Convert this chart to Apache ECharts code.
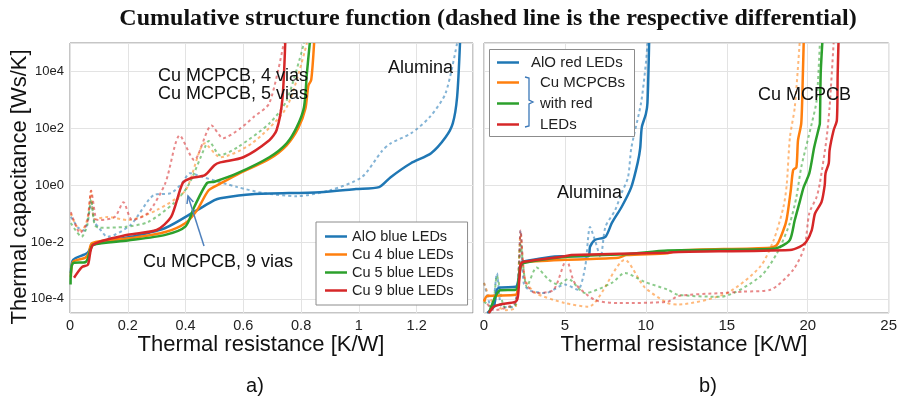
<!DOCTYPE html>
<html>
<head>
<meta charset="utf-8">
<script src="https://cdn.jsdelivr.net/npm/echarts@6/dist/echarts.min.js"></script>
<style>
  html, body { margin: 0; padding: 0; background: #fff; }
  #chart { width: 900px; height: 406px; }
</style>
</head>
<body>
<div id="chart"></div>
<script>
// values: [thermal resistance K/W, log10 of thermal capacitance Ws/K]

// a) blue LEDs, cumulative
var aloBlue = [[0.003,-3.09],[0.011,-2.63],[0.06,-2.39],[0.08,-2.1],[0.21,-1.82],[0.33,-1.51],[0.44,-0.88],[0.50,-0.53],[0.52,-0.46],[0.63,-0.32],[0.865,-0.25],[0.99,-0.14],[1.07,-0.07],[1.11,0.28],[1.18,0.77],[1.25,1.12],[1.30,1.68],[1.325,2.17],[1.34,3.1],[1.35,5]]
var cu4Blue = [[0.003,-3.23],[0.011,-2.7],[0.052,-2.56],[0.065,-2.4],[0.076,-2.04],[0.215,-1.86],[0.33,-1.65],[0.40,-1.33],[0.44,-0.88],[0.48,-0.18],[0.52,0.05],[0.58,0.38],[0.69,0.92],[0.75,1.4],[0.79,2.0],[0.815,2.7],[0.825,3.5],[0.835,3.7],[0.845,5]]
var cu5Blue = [[0.002,-3.5],[0.01,-2.75],[0.055,-2.7],[0.07,-2.3],[0.08,-2.1],[0.2,-1.95],[0.33,-1.75],[0.40,-1.45],[0.43,-0.77],[0.474,0.07],[0.50,0.12],[0.58,0.42],[0.69,0.98],[0.75,1.47],[0.785,2.04],[0.81,2.74],[0.82,3.93],[0.83,5]]
var cu9Blue = [[0.014,-3.26],[0.042,-2.88],[0.062,-2.8],[0.08,-2.1],[0.20,-1.75],[0.30,-1.58],[0.35,-1.12],[0.39,0.07],[0.42,0.25],[0.467,0.35],[0.50,0.7],[0.52,0.8],[0.60,0.98],[0.69,1.58],[0.715,1.93],[0.735,3.0],[0.745,5]]

// a) blue LEDs, differential
var aloBlueDiff = [[0.003,-1.12],[0.015,-1.3],[0.028,-1.5],[0.05,-1.6],[0.065,-1.0],[0.073,-0.6],[0.085,-1.3],[0.10,-1.5],[0.13,-1.82],[0.21,-1.4],[0.29,-0.35],[0.35,-0.28],[0.39,0.1],[0.415,0.42],[0.46,0.28],[0.58,-0.07],[0.67,-0.28],[0.785,-0.39],[0.90,-0.18],[1.01,0.28],[1.08,1.2],[1.11,1.47],[1.18,1.82],[1.245,2.39],[1.30,3.23],[1.34,5]]
var cu4BlueDiff = [[0.003,-1.0],[0.02,-1.4],[0.04,-1.6],[0.06,-1.2],[0.073,-0.2],[0.085,-1.2],[0.13,-1.12],[0.2,-1.23],[0.3,-0.88],[0.4,-0.18],[0.467,1.47],[0.52,0.98],[0.63,1.47],[0.75,2.74],[0.82,5]]
var cu5BlueDiff = [[0.003,-1.33],[0.02,-1.6],[0.04,-1.82],[0.06,-1.4],[0.073,-0.5],[0.085,-1.4],[0.10,-1.5],[0.19,-1.47],[0.27,-1.3],[0.36,-0.63],[0.41,0],[0.467,1.33],[0.48,1.55],[0.52,1.05],[0.58,1.33],[0.69,2.17],[0.75,2.98],[0.81,5]]
var cu9BlueDiff = [[0.003,-0.95],[0.035,-1.68],[0.06,-1.3],[0.073,-0.2],[0.09,-1.2],[0.10,-1.23],[0.155,-1.12],[0.185,-0.6],[0.215,-1.23],[0.27,-0.98],[0.33,0.07],[0.38,1.75],[0.43,0.88],[0.49,2.1],[0.53,1.65],[0.59,2.0],[0.635,2.39],[0.69,2.88],[0.74,5]]

// b) red LEDs, cumulative
var aloRed = [[0.2,-4.5],[0.6,-4.28],[0.8,-3.68],[1.0,-3.6],[1.96,-3.58],[2.1,-3.4],[2.26,-2.8],[2.35,-2.7],[4.8,-2.5],[6.45,-2.5],[6.55,-2.17],[6.85,-1.93],[7.5,-1.82],[7.9,-1.33],[8.5,-0.77],[9.1,-0.07],[9.5,0.8],[9.65,1.3],[9.75,2.04],[10.0,2.5],[10.1,2.9],[10.2,5]]
var cu4Red = [[0,-4.1],[0.2,-3.9],[1.96,-3.86],[2.1,-3.6],[2.26,-2.8],[2.35,-2.72],[5.0,-2.63],[8.3,-2.56],[8.8,-2.46],[11.35,-2.4],[12,-2.3],[17.7,-2.2],[18.1,-2.1],[18.5,-1.58],[18.7,-1.2],[18.95,-0.2],[19.1,0.53],[19.3,0.63],[19.4,1.58],[19.6,2.17],[19.7,3.9],[19.75,5]]
var cu5Red = [[0.3,-4.5],[0.7,-3.93],[1.0,-3.7],[1.96,-3.68],[2.1,-3.5],[2.26,-2.86],[2.45,-2.74],[5,-2.53],[8.9,-2.42],[11.35,-2.3],[17.7,-2.25],[18.3,-2.17],[18.9,-1.93],[19.2,-1.23],[19.5,-0.6],[19.75,-0.07],[20.1,0.42],[20.4,1.33],[20.7,2.04],[20.75,2.17],[20.8,3.9],[20.9,5]]
var cu9Red = [[0.3,-4.5],[0.6,-4.28],[1.0,-4.2],[1.96,-4.1],[2.1,-3.9],[2.26,-2.8],[2.45,-2.7],[5,-2.5],[5.4,-2.46],[11.35,-2.38],[12,-2.35],[18.9,-2.28],[19.5,-2.17],[19.9,-2.0],[20.25,-1.58],[20.45,-1.0],[20.85,-0.6],[21.05,0.0],[21.1,0.42],[21.3,0.77],[21.35,1.23],[21.6,1.93],[21.8,2.28],[21.85,3.9],[21.9,5]]

// b) red LEDs, differential
var aloRedDiff = [[0,-3.44],[0.5,-4.4],[0.8,-3.1],[1.1,-4.28],[1.8,-4.3],[2.1,-3.4],[2.26,-1.6],[2.45,-3.44],[2.8,-3.7],[3.8,-3.8],[5,-3.5],[5.8,-3.68],[6.25,-2.88],[6.55,-1.47],[6.85,-1.93],[7.2,-2.53],[7.5,-1.47],[8.1,-0.88],[8.5,-0.28],[8.9,0.28],[9.1,1.3],[9.7,2.88],[10.0,4.28],[10.1,5]]
var cu4RedDiff = [[0,-3.44],[0.5,-4.1],[1.35,-4.4],[1.96,-4.3],[2.26,-1.75],[2.55,-3.33],[3.2,-3.8],[5,-4.15],[6.45,-4.28],[8.7,-2.63],[9.9,-3.58],[11.35,-4.15],[12,-4.2],[15,-3.8],[17.05,-2.88],[17.9,-1.93],[18.5,-0.77],[18.7,0],[18.9,1.68],[19.2,2.74],[19.5,5]]
var cu5RedDiff = [[0,-4.1],[0.5,-4.3],[0.8,-3.2],[1.3,-4.3],[1.96,-4.2],[2.26,-2.1],[2.65,-3.58],[3.25,-2.9],[4.0,-3.33],[4.6,-3.5],[5.2,-3.3],[6.25,-3.8],[7.9,-3.44],[8.7,-3.09],[9.9,-3.4],[11.35,-3.68],[12,-3.86],[14.6,-3.93],[17.05,-3.23],[18.1,-2.4],[18.9,-1.33],[19.3,-0.42],[19.6,0.63],[20.25,2.17],[20.55,2.98],[20.75,5]]
var cu9RedDiff = [[0,-4.0],[0.6,-4.4],[1.96,-4.1],[2.26,-1.6],[2.55,-3.4],[3.2,-3.8],[4.3,-3.68],[5.1,-2.63],[5.6,-3.44],[6.85,-4.04],[8.3,-4.15],[11.35,-4.1],[12,-3.9],[14.6,-3.8],[16,-3.75],[17.7,-3.68],[19.1,-2.98],[19.8,-2.17],[20.1,-0.98],[20.55,-0.42],[20.75,0.07],[21.15,1.58],[21.35,2.74],[21.6,5]]

var leftNames = ['AlO blue LEDs', 'Cu 4 blue LEDs', 'Cu 5 blue LEDs', 'Cu 9 blue LEDs']
var rightNames = ['AlO red LEDs', 'Cu 4 red LEDs', 'Cu 5 red LEDs', 'Cu 9 red LEDs']
var braceLines = ['Cu MCPCBs', 'with red', 'LEDs']
var colors = ['#1f77b4', '#ff7f0e', '#2ca02c', '#d62728']

var FONT = '"Liberation Sans", Arial, sans-serif'

function toPts (arr) {
  return arr.map(function (p) { return [p[0], Math.pow(10, p[1])] })
}

function solid (name, arr, color, idx) {
  return {
    name: name,
    type: 'line',
    xAxisIndex: idx,
    yAxisIndex: idx,
    data: toPts(arr),
    showSymbol: false,
    smooth: 0.25,
    z: 3,
    lineStyle: { color: color, width: 2.5 },
    itemStyle: { color: color }
  }
}

function dashed (name, arr, color, idx) {
  return {
    name: name,
    type: 'line',
    xAxisIndex: idx,
    yAxisIndex: idx,
    data: toPts(arr),
    showSymbol: false,
    smooth: 0.25,
    z: 2,
    lineStyle: { color: color, width: 2, type: [3, 3], opacity: 0.55 },
    itemStyle: { color: color }
  }
}

function yLabel (v) {
  var e = Math.log10(v)
  if (Math.abs(e - Math.round(e)) > 0.01) return ''
  return '10e' + Math.round(e)
}

var chart = echarts.init(document.getElementById('chart'))

var yAxisBase = {
  type: 'log',
  logBase: 100,
  min: Math.pow(10, -4.5),
  max: 1e5,
  axisLine: { show: false },
  axisTick: { show: false },
  splitLine: { lineStyle: { color: '#e3e3e3', width: 1 } }
}

chart.setOption({
  backgroundColor: '#fff',
  animation: false,
  grid: [
    { left: 70, top: 43, width: 403, height: 270, show: true, borderColor: '#8c8c8c', borderWidth: 1 },
    { left: 484, top: 43, width: 408, height: 270, show: true, borderColor: '#8c8c8c', borderWidth: 1 }
  ],
  xAxis: [{
    gridIndex: 0,
    type: 'value',
    min: 0,
    max: 1.395,
    interval: 0.2,
    axisLine: { show: false },
    axisTick: { show: false },
    splitLine: { lineStyle: { color: '#e3e3e3' } },
    axisLabel: {
      color: '#222', fontSize: 14.5, fontFamily: FONT, margin: 5, showMaxLabel: false,
      formatter: function (v) { return Math.abs(v * 5 - Math.round(v * 5)) < 1e-6 ? String(+v.toFixed(1)) : '' }
    }
  }, {
    gridIndex: 1,
    type: 'value',
    min: 0,
    max: 25,
    interval: 5,
    axisLine: { show: false },
    axisTick: { show: false },
    splitLine: { lineStyle: { color: '#e3e3e3' } },
    axisLabel: { color: '#222', fontSize: 15, fontFamily: FONT, margin: 5 }
  }],
  yAxis: [
    Object.assign({}, yAxisBase, {
      gridIndex: 0,
      axisLabel: { color: '#222', fontSize: 13, fontFamily: FONT, margin: 6, showMinLabel: false, showMaxLabel: false, formatter: yLabel }
    }),
    Object.assign({}, yAxisBase, {
      gridIndex: 1,
      axisLabel: { show: false }
    })
  ],
  legend: [{
    data: leftNames,
    orient: 'vertical',
    left: 316,
    top: 222,
    padding: [7, 14, 7, 9],
    itemGap: 3,
    itemWidth: 22,
    itemHeight: 2.5,
    icon: 'rect',
    backgroundColor: '#fff',
    borderColor: '#8c8c8c',
    borderWidth: 1,
    textStyle: { fontSize: 14.5, lineHeight: 14, color: '#222', fontFamily: FONT }
  }, {
    data: [rightNames[0]],
    orient: 'vertical',
    left: 497,
    top: 55,
    padding: 0,
    itemWidth: 22,
    itemHeight: 2.5,
    icon: 'rect',
    textStyle: { fontSize: 15, lineHeight: 15, color: '#222', fontFamily: FONT, padding: [0, 0, 0, 7] }
  }, {
    data: rightNames.slice(1),
    orient: 'vertical',
    left: 497,
    top: 75,
    padding: 0,
    itemGap: 6,
    itemWidth: 22,
    itemHeight: 2.5,
    icon: 'rect',
    formatter: function (name) { return braceLines[rightNames.indexOf(name) - 1] },
    textStyle: { fontSize: 15, lineHeight: 15, color: '#222', fontFamily: FONT, padding: [0, 0, 0, 16] }
  }],
  graphic: [
    { type: 'text', z: 10, style: { text: 'Cumulative structure function (dashed line is the respective differential)', x: 488, y: 19, font: 'bold 24px "Liberation Serif", "Times New Roman", serif', fill: '#111', textAlign: 'center', textVerticalAlign: 'middle' } },
    { type: 'rect', z: 3, shape: { x: 489.5, y: 49.5, width: 145, height: 87 }, style: { fill: '#fff', stroke: '#8c8c8c', lineWidth: 1 } },
    { type: 'polyline', z: 5, shape: { points: [[525, 77], [529, 78], [529, 100], [533, 102], [529, 104], [529, 126], [525, 127]] }, style: { fill: null, stroke: '#3b78b8', lineWidth: 1.3 } },
    { type: 'text', z: 10, style: { text: 'Thermal capacitance [Ws/K]', x: 0, y: 0, font: '22px ' + FONT, fill: '#111', textAlign: 'center', textVerticalAlign: 'middle' }, x: 20, y: 187, rotation: Math.PI / 2 },
    { type: 'text', z: 10, style: { text: 'Thermal resistance [K/W]', x: 261, y: 345, font: '22px ' + FONT, fill: '#111', textAlign: 'center', textVerticalAlign: 'middle' } },
    { type: 'text', z: 10, style: { text: 'Thermal resistance [K/W]', x: 684, y: 345, font: '22px ' + FONT, fill: '#111', textAlign: 'center', textVerticalAlign: 'middle' } },
    { type: 'text', z: 10, style: { text: 'a)', x: 255, y: 386, font: '20px ' + FONT, fill: '#111', textAlign: 'center', textVerticalAlign: 'middle' } },
    { type: 'text', z: 10, style: { text: 'b)', x: 708, y: 386, font: '20px ' + FONT, fill: '#111', textAlign: 'center', textVerticalAlign: 'middle' } },
    { type: 'text', z: 10, style: { text: 'Cu MCPCB, 4 vias\nCu MCPCB, 5 vias', x: 158, y: 85, font: '18px ' + FONT, lineHeight: 18, fill: '#111', textAlign: 'left', textVerticalAlign: 'middle' } },
    { type: 'text', z: 10, style: { text: 'Alumina', x: 388, y: 68, font: '18px ' + FONT, fill: '#111', textAlign: 'left', textVerticalAlign: 'middle' } },
    { type: 'text', z: 10, style: { text: 'Cu MCPCB, 9 vias', x: 143, y: 262, font: '18px ' + FONT, fill: '#111', textAlign: 'left', textVerticalAlign: 'middle' } },
    { type: 'line', z: 10, shape: { x1: 204, y1: 246, x2: 188, y2: 196 }, style: { stroke: '#4f81bd', lineWidth: 1.5 } },
    { type: 'polyline', z: 10, shape: { points: [[187, 204], [188, 196], [193.4, 202]] }, style: { fill: null, stroke: '#4f81bd', lineWidth: 1.5 } },
    { type: 'text', z: 10, style: { text: 'Alumina', x: 557, y: 193, font: '18px ' + FONT, fill: '#111', textAlign: 'left', textVerticalAlign: 'middle' } },
    { type: 'text', z: 10, style: { text: 'Cu MCPCB', x: 758, y: 95, font: '18px ' + FONT, fill: '#111', textAlign: 'left', textVerticalAlign: 'middle' } }
  ],
  series: [
    dashed('AlO blue diff', aloBlueDiff, colors[0], 0),
    dashed('Cu 4 blue diff', cu4BlueDiff, colors[1], 0),
    dashed('Cu 5 blue diff', cu5BlueDiff, colors[2], 0),
    dashed('Cu 9 blue diff', cu9BlueDiff, colors[3], 0),
    solid(leftNames[0], aloBlue, colors[0], 0),
    solid(leftNames[1], cu4Blue, colors[1], 0),
    solid(leftNames[2], cu5Blue, colors[2], 0),
    solid(leftNames[3], cu9Blue, colors[3], 0),
    dashed('AlO red diff', aloRedDiff, colors[0], 1),
    dashed('Cu 4 red diff', cu4RedDiff, colors[1], 1),
    dashed('Cu 5 red diff', cu5RedDiff, colors[2], 1),
    dashed('Cu 9 red diff', cu9RedDiff, colors[3], 1),
    solid(rightNames[0], aloRed, colors[0], 1),
    solid(rightNames[1], cu4Red, colors[1], 1),
    solid(rightNames[2], cu5Red, colors[2], 1),
    solid(rightNames[3], cu9Red, colors[3], 1)
  ]
})
</script>
</body>
</html>
